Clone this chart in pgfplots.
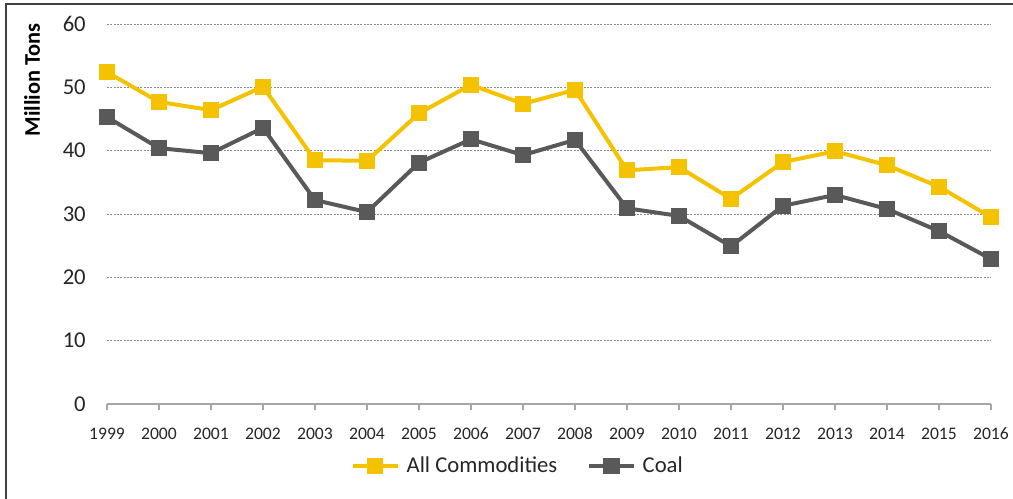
\documentclass[border=0pt]{standalone}
\usepackage{pgfplots}
\pgfplotsset{compat=1.18}
\usepackage{fontspec}
\setmainfont{Carlito}
\definecolor{acgold}{HTML}{F5C200}
\definecolor{coalgray}{HTML}{595959}
\definecolor{gridgray}{HTML}{8C8C8C}
\definecolor{axgray}{HTML}{A6A6A6}
\begin{document}
\begin{tikzpicture}
\useasboundingbox (-80.25pt,-71.25pt) rectangle (679.5pt,303pt);
\begin{axis}[
  scale only axis,
  width=663pt, height=285pt,
  xmin=1999, xmax=2016, ymin=0, ymax=60,
  axis x line*=bottom, axis y line*=left,
  x axis line style={draw=axgray, line width=0.9pt, -},
  y axis line style={draw=none},
  xtick={1999,...,2016},
  ytick={0,10,...,60},
  /pgf/number format/assume math mode=true,
  xticklabel style={/pgf/number format/1000 sep={}},
  xtick align=outside,
  major tick length=4.5pt,
  xtick style={draw=axgray, line width=0.9pt},
  ytick style={draw=none},
  ymajorgrids,
  y grid style={draw=gridgray, line width=0.6pt, dash pattern=on 1.5pt off 1pt},
  xticklabel style={font=\fontsize{13.2}{15}\selectfont, text=black!85, inner sep=0pt, anchor=base, yshift=-22.5pt},
  yticklabel style={font=\fontsize{17}{20}\selectfont, text=black!85, inner sep=0pt, anchor=east, xshift=-15.75pt},
  legend style={at={(0.465,-0.163)}, anchor=center, draw=none, fill=none,
    font=\fontsize{17}{20}\selectfont, text=black!85, legend columns=2,
    /tikz/every even column/.append style={column sep=20pt},
    /tikz/every odd column/.append style={column sep=3pt},
    inner sep=0pt},
  legend cell align=left,
  legend image code/.code={\draw[#1, mark repeat=2, mark phase=2] plot coordinates {(0pt,0pt) (17pt,0pt) (34pt,0pt)};},
  clip=false,
]
\addplot[acgold, line width=3pt, mark=square*, mark size=4.6pt, mark options={solid}] coordinates {
(1999,52.4) (2000,47.7) (2001,46.4) (2002,50.1) (2003,38.5) (2004,38.4)
(2005,45.9) (2006,50.4) (2007,47.4) (2008,49.6) (2009,36.9) (2010,37.4)
(2011,32.4) (2012,38.2) (2013,39.9) (2014,37.7) (2015,34.3) (2016,29.5)};
\addlegendentry{All Commodities}
\addplot[coalgray, line width=3pt, mark=square*, mark size=4.6pt, mark options={solid}] coordinates {
(1999,45.3) (2000,40.4) (2001,39.6) (2002,43.6) (2003,32.2) (2004,30.3)
(2005,38.1) (2006,41.8) (2007,39.3) (2008,41.7) (2009,30.9) (2010,29.7)
(2011,24.9) (2012,31.3) (2013,33.0) (2014,30.8) (2015,27.3) (2016,22.9)};
\addlegendentry{Coal}
\end{axis}
\node[rotate=90, font=\bfseries\fontsize{16.8}{19}\selectfont] at (-56.25pt,243pt) {Million Tons};
\draw[black!75, line width=1.2pt] (-75.75pt,-71.25pt) -- (-75.75pt,300pt) -- (679.5pt,300pt);
\end{tikzpicture}
\end{document}
